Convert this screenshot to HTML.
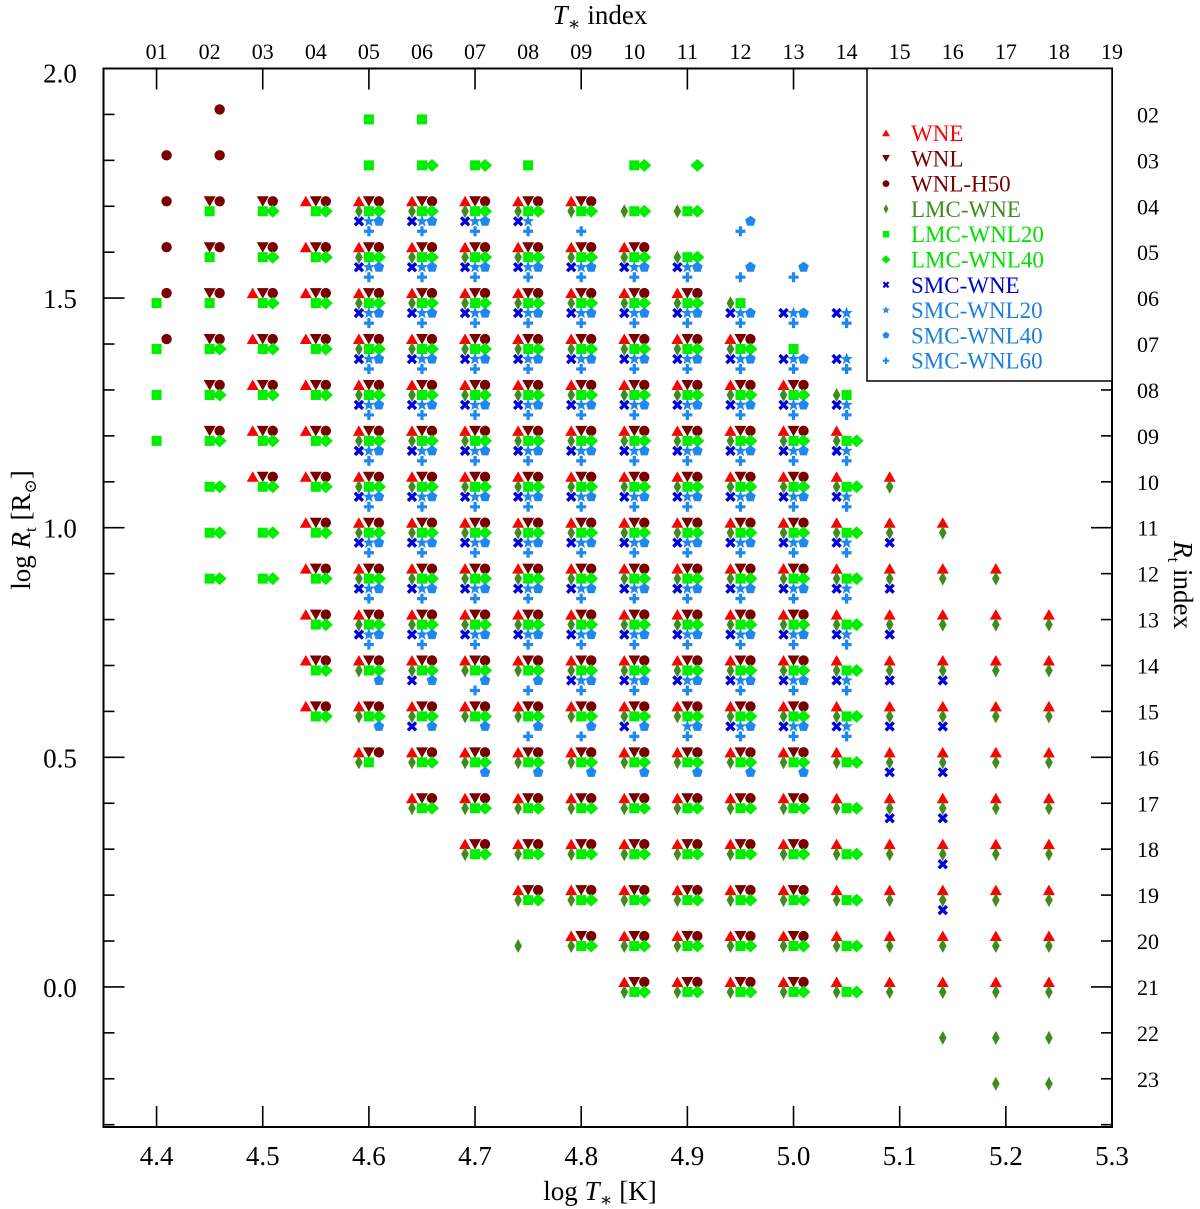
<!DOCTYPE html>
<html><head><meta charset="utf-8">
<style>
html,body{margin:0;padding:0;background:#fff;}
svg{display:block;}
svg text{font-family:"Liberation Serif","DejaVu Serif",serif;}
</style></head>
<body>
<svg id="chart" width="1200" height="1209" viewBox="0 0 1200 1209" xmlns="http://www.w3.org/2000/svg" font-family="Liberation Serif, serif">
  <g id="axes"></g>
  <g id="marks"></g>
  <g id="legend"></g>
  <text x="600" y="1200" font-size="27" text-anchor="middle">log <tspan font-style="italic">T</tspan><tspan font-size="19" dy="6">∗</tspan><tspan dy="-6"> [K]</tspan></text>
  <text x="600" y="24" font-size="27" text-anchor="middle"><tspan font-style="italic">T</tspan><tspan font-size="19" dy="6">∗</tspan><tspan dy="-6"> index</tspan></text>
  <text transform="translate(30,530) rotate(-90)" font-size="27" text-anchor="middle">log <tspan font-style="italic">R</tspan><tspan font-size="17" dy="6">t</tspan><tspan dy="-6"> [R</tspan><tspan font-size="17" dy="6">⊙</tspan><tspan dy="-6">]</tspan></text>
  <text transform="translate(1174,585) rotate(90)" font-size="27" text-anchor="middle"><tspan font-style="italic">R</tspan><tspan font-size="17" dy="6">t</tspan><tspan dy="-6"> index</tspan></text>
</svg>
<script>
// ---- data: [T index column, first R index row, last R index row] ----
const wne   = [[3,6,10],[4,4,15],[5,4,16],[6,4,17],[7,4,18],[8,4,19],[9,4,20],[10,5,21],[11,6,21],[12,7,21],[13,8,21],[14,9,21],[15,10,21],[16,11,21],[17,12,21],[18,13,21]];
const wnl   = [[2,4,9],[3,4,10],[4,4,15],[5,4,16],[6,4,17],[7,4,18],[8,4,19],[9,4,20],[10,5,21],[11,6,21],[12,7,21],[13,8,21]];
const wnlH50 = [[1,3,7],[2,2,9],[3,4,10],[4,4,15],[5,4,16],[6,4,17],[7,4,18],[8,4,19],[9,4,20],[10,5,21],[11,6,21],[12,7,21],[13,8,21]];
const lmcWne = [[5,4,16],[6,4,17],[7,4,18],[8,4,20],[9,4,20],[10,4,21],[11,4,21],[12,6,21],[13,8,21],[14,8,21],[15,10,21],[16,11,22],[17,12,23],[18,13,23]];
const lmcWnl20 = [[1,6,9],[2,4,12],[3,4,12],[4,4,15],[5,2,16],[6,2,17],[7,3,18],[8,3,19],[9,4,20],[10,3,21],[11,4,21],[12,6,21],[13,7,21],[14,8,21]];
const lmcWnl40 = [[2,7,12],[3,4,12],[4,4,15],[5,4,15],[6,3,17],[7,3,18],[8,4,19],[9,4,20],[10,3,21],[11,3,21],[12,7,21],[13,8,21],[14,9,21]];
const smcWne = [[5,4,13],[6,4,15],[7,4,13],[8,4,13],[9,5,14],[10,5,15],[11,5,14],[12,6,15],[13,6,15],[14,6,15],[15,11,17],[16,14,19]];
const smcWnl20 = [[5,4,13],[6,4,13],[7,4,13],[8,4,13],[9,5,14],[10,5,14],[11,5,15],[12,6,15],[13,6,15],[14,6,15]];
const smcWnl40 = [[5,4,15],[6,4,15],[7,4,16],[8,5,16],[9,5,16],[10,5,16],[11,5,16],[12,4,16],[13,5,16]];
const smcWnl60 = [[5,4,13],[6,4,13],[7,4,14],[8,4,15],[9,4,15],[10,5,15],[11,5,15],[12,4,15],[13,5,15],[14,6,15]];
const seriesNames = ["WNE","WNL","WNL-H50","LMC-WNE","LMC-WNL20","LMC-WNL40","SMC-WNE","SMC-WNL20","SMC-WNL40","SMC-WNL60"];
const xTicks = [4.4,4.5,4.6,4.7,4.8,4.9,5.0,5.1,5.2,5.3];
const yTickLabels = [0.0,0.5,1.0,1.5,2.0];
const topIndexLabels = ["01","02","03","04","05","06","07","08","09","10","11","12","13","14","15","16","17","18","19"];
const rightIndexLabels = ["02","03","04","05","06","07","08","09","10","11","12","13","14","15","16","17","18","19","20","21","22","23"];

// ---- scales ----
const X0=103.5, X1=1112, Y0=1127, Y1=68.5;
const xMin=4.35, xMax=5.30, yMin=-0.305, yMax=2.0;
function xs(v){return X0+(v-xMin)/(xMax-xMin)*(X1-X0);}
function ys(v){return Y0-(v-yMin)/(yMax-yMin)*(Y0-Y1);}
function colT(i){return 4.40+0.05*(i-1);}
function rowR(j){return 1.90-0.1*(j-2);}

const NS="http://www.w3.org/2000/svg";
function mk(tag,attrs,parent){const e=document.createElementNS(NS,tag);for(const k in attrs)e.setAttribute(k,attrs[k]);parent.appendChild(e);return e;}
const SERIF='"Liberation Serif", serif';

const axes=document.getElementById('axes');
const frame=mk('rect',{x:X0,y:Y1,width:X1-X0,height:Y0-Y1,fill:'none',stroke:'#000','stroke-width':2},axes);



xTicks.forEach(function(v){
  const x=xs(v);
  const t1=mk('line',{x1:x,x2:x,y1:Y0,y2:Y0-21,stroke:'#000','stroke-width':1.6},axes);
  
  
  const t2=mk('line',{x1:x,x2:x,y1:Y1,y2:Y1+21,stroke:'#000','stroke-width':1.6},axes);
  
  
  const lb=mk('text',{x:x,y:1165,'font-size':27,'text-anchor':'middle','font-family':SERIF},axes);
  lb.textContent=v.toFixed(1);
  
  
});
for(let k=-3;k<=20;k++){
  const v=k/10, y=ys(v), major=(k%5===0);
  const len=major?21:11;
  const a=mk('line',{x1:X0,x2:X0+len,y1:y,y2:y,stroke:'#000','stroke-width':1.6},axes);
  
  
  const b=mk('line',{x1:X1,x2:X1-len,y1:y,y2:y,stroke:'#000','stroke-width':1.6},axes);
  
  
}
yTickLabels.forEach(function(v){
  const y=v===2.0?ys(v)+14:ys(v)+10;
  const lb=mk('text',{x:60,y:y,'font-size':27,'text-anchor':'middle','font-family':SERIF},axes);
  lb.textContent=v.toFixed(1);
  
  
});
topIndexLabels.forEach(function(s,i){
  const lb=mk('text',{x:xs(colT(i+1)),y:59,'font-size':22,'text-anchor':'middle','font-family':SERIF},axes);
  lb.textContent=s;
  
  
});
rightIndexLabels.forEach(function(s,i){
  const lb=mk('text',{x:1148,y:ys(rowR(i+2))+8,'font-size':22,'text-anchor':'middle','font-family':SERIF},axes);
  lb.textContent=s;
  
  
});

function shape(kind,cx,cy,s,color,parent){
  let e;
  if(kind==='triUp') e=mk('polygon',{points:[cx,cy-5.5*s,cx+6*s,cy+5*s,cx-6*s,cy+5*s].join(','),fill:color},parent);
  else if(kind==='triDown') e=mk('polygon',{points:[cx-6*s,cy-5*s,cx+6*s,cy-5*s,cx,cy+5.5*s].join(','),fill:color},parent);
  else if(kind==='circle') e=mk('circle',{cx:cx,cy:cy,r:5.2*s,fill:color},parent);
  else if(kind==='thinDiamond') e=mk('polygon',{points:[cx,cy-7*s,cx+3.8*s,cy,cx,cy+7*s,cx-3.8*s,cy].join(','),fill:color},parent);
  else if(kind==='square') e=mk('rect',{x:cx-5*s,y:cy-5*s,width:10*s,height:10*s,fill:color},parent);
  else if(kind==='diamond') e=mk('polygon',{points:[cx,cy-6.5*s,cx+7*s,cy,cx,cy+6.5*s,cx-7*s,cy].join(','),fill:color},parent);
  else if(kind==='cross') e=mk('path',{d:'M'+(cx-4*s)+','+(cy-4*s)+'L'+(cx+4*s)+','+(cy+4*s)+'M'+(cx+4*s)+','+(cy-4*s)+'L'+(cx-4*s)+','+(cy+4*s),stroke:color,'stroke-width':3.4*s,fill:'none'},parent);
  else if(kind==='star'){
    const p=[];for(let k=0;k<10;k++){const r=k%2?2.7*s:6.5*s;const a=-Math.PI/2+k*Math.PI/5;p.push((cx+r*Math.cos(a)).toFixed(1)+','+(cy+r*Math.sin(a)).toFixed(1));}
    e=mk('polygon',{points:p.join(' '),fill:color},parent);
  }
  else if(kind==='pentagon'){
    const p=[];for(let k=0;k<5;k++){const a=-Math.PI/2+k*2*Math.PI/5;p.push((cx+5.6*s*Math.cos(a)).toFixed(1)+','+(cy+5.6*s*Math.sin(a)).toFixed(1));}
    e=mk('polygon',{points:p.join(' '),fill:color},parent);
  }
  else if(kind==='plus') e=mk('path',{d:'M'+(cx-5*s)+','+cy+'L'+(cx+5*s)+','+cy+'M'+cx+','+(cy-5*s)+'L'+cx+','+(cy+5*s),stroke:color,'stroke-width':3.2*s,fill:'none'},parent);
  return e;
}

const seriesData=[wne,wnl,wnlH50,lmcWne,lmcWnl20,lmcWnl40,smcWne,smcWnl20,smcWnl40,smcWnl60];
const kinds=['triUp','triDown','circle','thinDiamond','square','diamond','cross','star','pentagon','plus'];
const colors=['#ff0000','#7a0000','#7a0000','#3d8c1c','#00ee00','#00ee00','#0000dd','#1e88ee','#1e88ee','#1e88ee'];
const textColors=['#ff0000','#7a0000','#7a0000','#3d8c1c','#00e000','#00e000','#0000cc','#1a7fdf','#1a7fdf','#1a7fdf'];
const offX=[-10,0,10,-10,0,10,-10,0,10,0];
const offY=[-5,-5,-5,5,5,5,15,15,15,25];

const marks=document.getElementById('marks');
seriesData.forEach(function(segs,si){
  const g=mk('g',{},marks);
  
  
  segs.forEach(function(seg){
    for(let j=seg[1];j<=seg[2];j++){
      const e=shape(kinds[si],xs(colT(seg[0]))+offX[si],ys(rowR(j))+offY[si],1,colors[si],g);
      
      
    }
  });
});

const legend=document.getElementById('legend');
const lbox=mk('rect',{x:867,y:Y1,width:X1-867,height:381-Y1,fill:'#fff',stroke:'#000','stroke-width':1.5},legend);


seriesNames.forEach(function(n,i){
  const y=133+i*25.3;
  const g=mk('g',{},legend);
  
  
  shape(kinds[i],886,y,0.65,colors[i],g);
  const t=mk('text',{x:911,y:y+8,'font-size':23,fill:textColors[i],'font-family':SERIF},g);
  t.textContent=n;
});
</script>
</body></html>
